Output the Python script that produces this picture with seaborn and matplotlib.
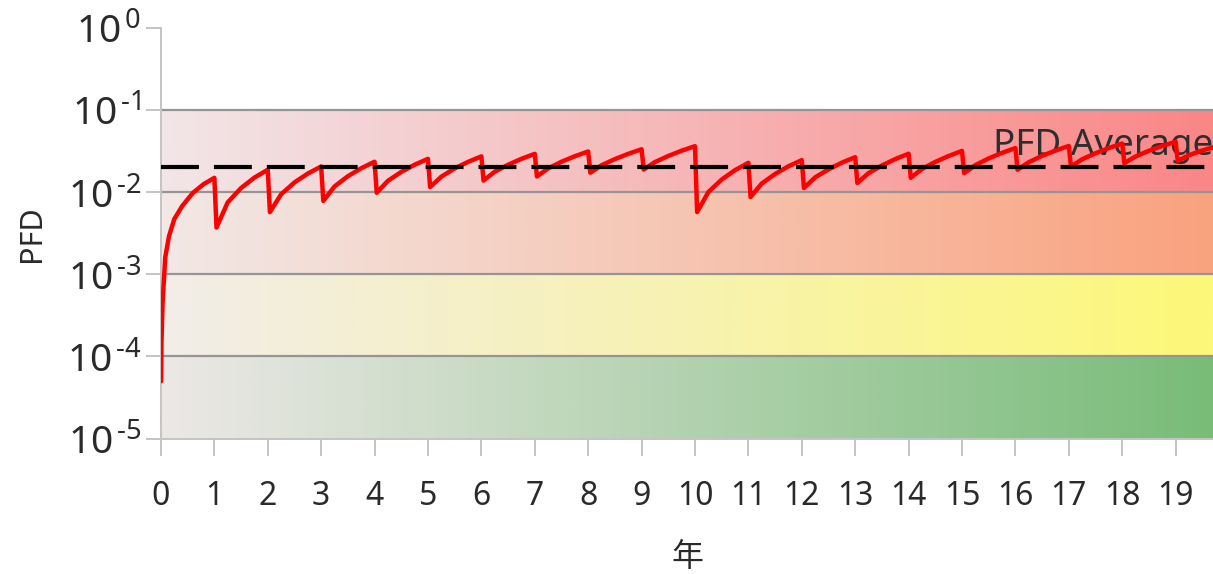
import numpy as np
import pandas as pd
import matplotlib
matplotlib.use("Agg")
import matplotlib.pyplot as plt
import seaborn as sns

# ---- data -----------------------------------------------------------------
# PFD during the first year of operation (starts from zero)
first_year_t = [0.003, 0.01, 0.03, 0.08, 0.15, 0.25, 0.4, 0.6, 0.8]
first_year_pfd = [5e-5, 1.5e-4, 4.5e-4, 0.0016, 0.0029, 0.0047, 0.0068, 0.0098, 0.0125]

# yearly proof tests
test_years = list(range(1, 20))
pfd_before_test = [0.0149, 0.0187, 0.0205, 0.0234, 0.0254, 0.0272, 0.0292, 0.0312, 0.0332, 0.0362,
                   0.0227, 0.0245, 0.0266, 0.0293, 0.0317, 0.0343, 0.0364, 0.0390, 0.0410]
pfd_after_test = [0.0037, 0.0057, 0.0078, 0.0098, 0.0115, 0.0138, 0.0155, 0.0172, 0.0188, 0.0057,
                  0.0087, 0.0112, 0.0129, 0.0149, 0.0170, 0.0187, 0.0204, 0.0225, 0.0240]
# PFD a quarter, half and three quarters of a year after each test (years 1..18)
pfd_quarter = [0.0075, 0.0094, 0.0117, 0.0137, 0.0154, 0.0177, 0.0194, 0.0212, 0.0232,
               0.0100, 0.0127, 0.0151, 0.0170, 0.0191, 0.0213, 0.0231, 0.0251, 0.0271]
pfd_half = [0.0112, 0.0131, 0.0156, 0.0176, 0.0194, 0.0215, 0.0234, 0.0252, 0.0275,
            0.0142, 0.0166, 0.0189, 0.0211, 0.0233, 0.0257, 0.0276, 0.0297, 0.0318]
pfd_three_quarter = [0.0150, 0.0168, 0.0195, 0.0215, 0.0233, 0.0254, 0.0273, 0.0292, 0.0319,
                     0.0185, 0.0206, 0.0228, 0.0252, 0.0275, 0.0300, 0.0320, 0.0344, 0.0364]
# last partial year
tail_t = [19.25, 19.5, 19.7]
tail_pfd = [0.0281, 0.0321, 0.0350]

pfd_average = 0.02
average_label = "PFD Average"

# SIL bands (lower edge, upper edge) with colours at the left and right ends
band_lo = [1e-5, 1e-4, 1e-3, 1e-2]
band_hi = [1e-4, 1e-3, 1e-2, 1e-1]
band_left = ["#ece8e6", "#f2ede8", "#f2e8e6", "#f2e6e8"]
band_right = ["#78bc78", "#fdf878", "#faa27e", "#fb8686"]

y_ticks = [1e-5, 1e-4, 1e-3, 1e-2, 1e-1, 1e0]
y_exponents = ["-5", "-4", "-3", "-2", "-1", "0"]
x_ticks = list(range(0, 20))
x_label = "年"
y_label = "PFD"
x_max = 19.7

# ---- build the curve ------------------------------------------------------
test_duration = 0.04  # the test itself takes a short moment
t_vals = list(first_year_t)
p_vals = list(first_year_pfd)
for i, k in enumerate(test_years):
    t_vals += [k, k + test_duration]
    p_vals += [pfd_before_test[i], pfd_after_test[i]]
    if i < len(pfd_quarter):
        t_vals += [k + 0.25, k + 0.5, k + 0.75]
        p_vals += [pfd_quarter[i], pfd_half[i], pfd_three_quarter[i]]
t_vals += tail_t
p_vals += tail_pfd
curve = pd.DataFrame({"year": t_vals, "pfd": p_vals})

# ---- figure ---------------------------------------------------------------
sns.set_theme(style="white")
plt.rcParams["font.family"] = ["Noto Sans", "Noto Sans CJK SC", "DejaVu Sans"]
plt.rcParams["mathtext.fontset"] = "custom"
plt.rcParams["mathtext.rm"] = "Noto Sans"
plt.rcParams["mathtext.it"] = "Noto Sans:italic"
plt.rcParams["mathtext.bf"] = "Noto Sans:bold"

fig = plt.figure(figsize=(12.13, 5.74), dpi=100)
ax = fig.add_axes([0.1327, 0.2359, 0.8673, 0.7158])
ax.set_yscale("log")

# gradient bands
for lo, hi, cl, cr in zip(band_lo, band_hi, band_left, band_right):
    c0 = np.array(matplotlib.colors.to_rgb(cl))
    c1 = np.array(matplotlib.colors.to_rgb(cr))
    f = np.linspace(0, 1, 256)[:, None]
    grad = (c0 * (1 - f) + c1 * f)[None, :, :]
    ax.imshow(grad, extent=[0, x_max, lo, hi], aspect="auto",
              interpolation="bilinear", zorder=0)

ax.hlines(band_hi, 0, x_max, colors="#959595", linewidth=1.6, zorder=1)

ax.text(15.58, 0.0284, average_label, fontsize=26.5, color="#2e2e2e",
        ha="left", va="baseline", zorder=2)

sns.lineplot(data=curve, x="year", y="pfd", sort=False, estimator=None,
             color="#ff0000", linewidth=3.2, ax=ax, zorder=3)
for ln in ax.get_lines():
    ln.set_solid_joinstyle("round")
    ln.set_solid_capstyle("round")

avg_line, = ax.plot([0, x_max], [pfd_average, pfd_average], color="black",
                    linewidth=3.0, zorder=4)
avg_line.set_dashes([9.1, 3.6])
avg_line.set_dash_capstyle("butt")

ax.set_xlim(0, x_max)
ax.set_ylim(1e-5, 1e0)
ax.set_xticks(x_ticks)
ax.set_xticklabels([str(v) for v in x_ticks])
ax.set_yticks(y_ticks)
ax.set_yticklabels([r"$\mathregular{10^{\,\text{%s}}}$" % e for e in y_exponents])
ax.minorticks_off()

for side in ["top", "right"]:
    ax.spines[side].set_visible(False)
for side in ["left", "bottom"]:
    ax.spines[side].set_color("#c4c4c4")
    ax.spines[side].set_linewidth(1.4)

ax.tick_params(axis="x", length=12, width=1.4, color="#c4c4c4", pad=18,
               labelsize=23, labelcolor="#2a2a2a", bottom=True)
ax.tick_params(axis="y", length=11, width=1.4, color="#c4c4c4", pad=3,
               labelsize=28, labelcolor="#2a2a2a", left=True)

ax.set_xlabel(x_label, fontsize=23, color="#2a2a2a", labelpad=20,
              fontfamily=["Noto Sans CJK SC", "DejaVu Sans"])
ax.set_ylabel(y_label, fontsize=22, color="#2a2a2a", labelpad=14)

fig.savefig("out.png", dpi=100)
